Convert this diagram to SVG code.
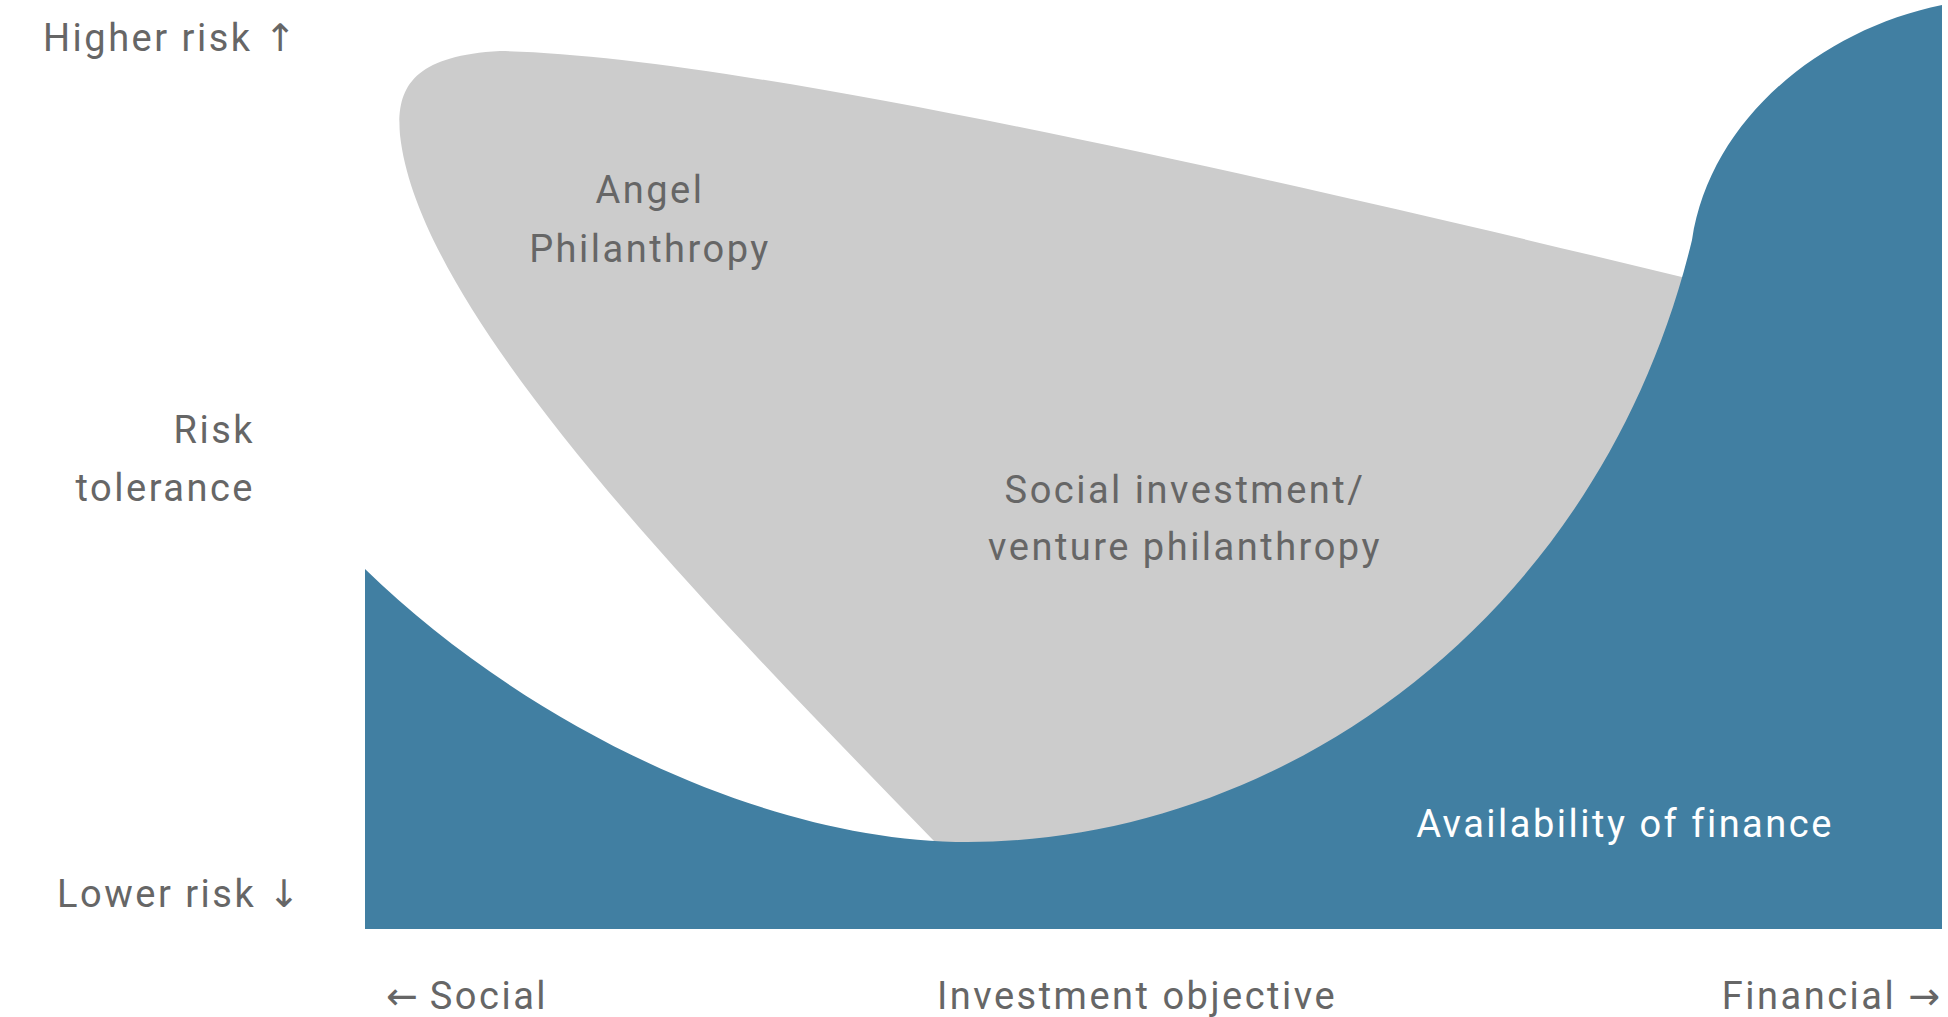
<svg xmlns="http://www.w3.org/2000/svg" width="1948" height="1017" viewBox="0 0 1948 1017">
  <style>
    .lbl { font-family: Roboto, "Liberation Sans", "DejaVu Sans", sans-serif; font-size: 38px; fill: #666666; letter-spacing: 2.5px; }
    .arr { font-family: "DejaVu Sans", sans-serif; font-size: 38px; letter-spacing: 0; }
    .wht { fill: #ffffff; }
    .mid { text-anchor: middle; }
    .end { text-anchor: end; }
  </style>
  <rect x="0" y="0" width="1948" height="1017" fill="#ffffff"/>
  <g id="angel-region">
    <path d="M 934 841 C 720 620, 420 320, 400 135 C 396 88, 412 56, 500 51 C 720 55, 1200 160, 1686 278 L 1760 278 L 1760 900 L 960 900 Z" fill="#cccccc"/>
    <text class="lbl mid" x="650" y="203">Angel</text>
    <text class="lbl mid" x="650" y="262">Philanthropy</text>
  </g>
  <g id="finance-region">
    <path d="M 365 569 C 520 720, 760 842, 968 842 C 1280 842, 1600 620, 1692 240 C 1710 120, 1820 30, 1942 5 L 1942 929 L 365 929 Z" fill="#417fa2"/>
    <text class="lbl wht mid" x="1625" y="837">Availability of finance</text>
  </g>
  <g id="social-investment">
    <text class="lbl mid" x="1185" y="503">Social investment/</text>
    <text class="lbl mid" x="1185" y="560">venture philanthropy</text>
  </g>
  <g id="y-axis">
    <text class="lbl" x="43" y="51">Higher risk <tspan class="arr">↑</tspan></text>
    <text class="lbl end" x="255" y="443">Risk</text>
    <text class="lbl end" x="255" y="501">tolerance</text>
    <text class="lbl end" x="300" y="907">Lower risk <tspan class="arr">↓</tspan></text>
  </g>
  <g id="x-axis">
    <text class="lbl" x="386" y="1009"><tspan class="arr">←</tspan> Social</text>
    <text class="lbl mid" x="1137" y="1009">Investment objective</text>
    <text class="lbl end" x="1940" y="1009">Financial <tspan class="arr">→</tspan></text>
  </g>
  <g id="connectors"></g>
</svg>
